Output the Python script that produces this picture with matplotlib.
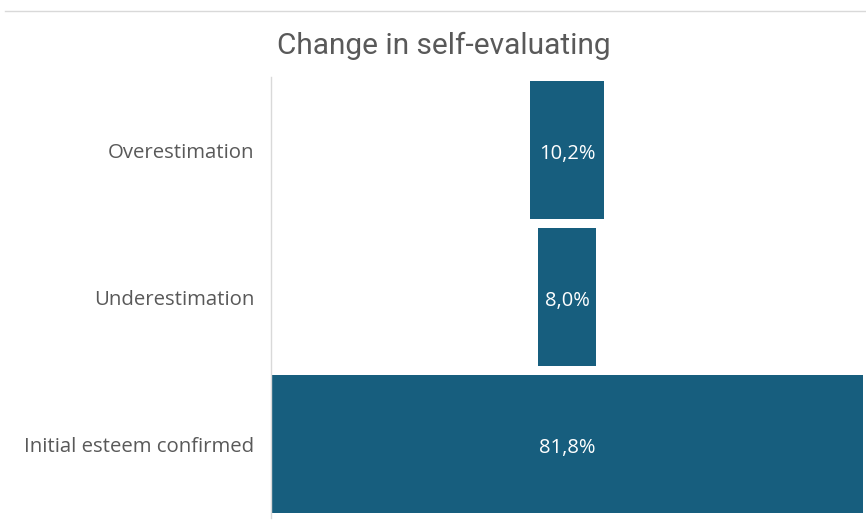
import matplotlib.pyplot as plt
from matplotlib.lines import Line2D

categories = ["Overestimation", "Underestimation", "Initial esteem confirmed"]
shares = [10.2, 8.0, 81.8]
labels = ["10,2%", "8,0%", "81,8%"]

bar_color = "#175E7E"
text_gray = "#595959"

fig = plt.figure(figsize=(8.66, 5.27), dpi=100)
ax = fig.add_axes([0.3129, 0.018, 0.6836, 0.8368])

ypos = list(range(len(categories)))
# funnel: each bar centred on zero
lefts = [-v / 2 for v in shares]
ax.barh(ypos, shares, left=lefts, height=0.935, color=bar_color)

for y, lab in zip(ypos, labels):
    ax.text(0, y + 0.03, lab, ha="center", va="center", color="white",
            fontsize=14.5, family="Open Sans", fontstretch="normal")

half = max(shares) / 2
ax.set_xlim(-half, half)
ax.set_ylim(len(categories) - 0.5, -0.5)
ax.set_yticks(ypos)
ax.set_yticklabels(categories, fontsize=14.7, color=text_gray,
                   family="Open Sans", fontstretch="normal")
ax.tick_params(axis="y", length=0, pad=12)
ax.set_xticks([])

for side in ["top", "right", "bottom"]:
    ax.spines[side].set_visible(False)
ax.spines["left"].set_color("#D9D9D9")
ax.spines["left"].set_linewidth(1)

fig.text(0.512, 0.912, "Change in self-evaluating", ha="center", va="center",
         fontsize=21.5, color=text_gray, family="Roboto")

# thin frame line across the top
fig.add_artist(Line2D([0.006, 1.0], [0.979, 0.979], color="#D9D9D9", linewidth=1))

fig.savefig("out.png", dpi=100)
